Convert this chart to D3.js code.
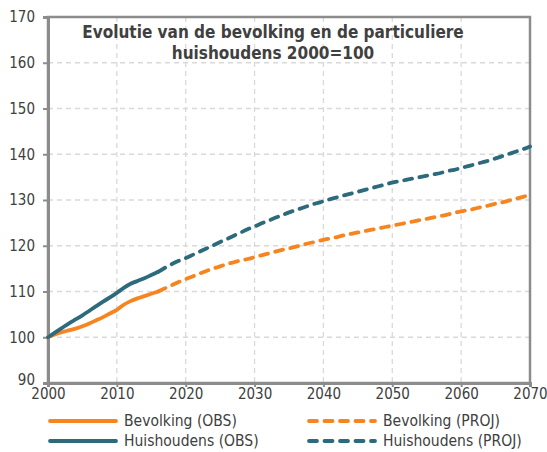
<!DOCTYPE html>
<html>
<head>
<meta charset="utf-8">
<script src="https://cdn.jsdelivr.net/npm/d3@7"></script>
<style>
  body { margin: 0; background: #fff; }
  svg text { font-family: "DejaVu Sans Condensed", "DejaVu Sans", sans-serif; fill: #404040; }
</style>
</head>
<body>
<div id="chart"></div>
<script>
// Data (2000 = 100)
var obsYears = d3.range(2000, 2017);
var bevolkingObs = [100, 100.6, 101.1, 101.5, 101.9, 102.4, 103.0, 103.7, 104.4, 105.2,
  106.0, 107.1, 107.9, 108.5, 109.0, 109.5, 110.0];
var huishoudensObs = [100, 101.0, 102.0, 103.0, 103.9, 104.8, 105.8, 106.8, 107.8, 108.7,
  109.7, 110.8, 111.7, 112.3, 112.9, 113.6, 114.3];

var projYears = d3.range(2016, 2071);
var bevolkingProj = [110.0, 110.7, 111.4, 112.1, 112.7, 113.3, 113.9, 114.5, 115.0, 115.5,
  116.0, 116.4, 116.8, 117.1, 117.5, 117.9, 118.3, 118.7, 119.1, 119.4,
  119.8, 120.2, 120.6, 120.9, 121.3, 121.6, 121.9, 122.3, 122.6, 122.9,
  123.2, 123.5, 123.8, 124.1, 124.4, 124.7, 125.0, 125.3, 125.6, 125.9,
  126.2, 126.5, 126.8, 127.2, 127.5, 127.8, 128.1, 128.5, 128.8, 129.2,
  129.5, 129.9, 130.3, 130.7, 131.1];
var huishoudensProj = [114.3, 115.2, 116.0, 116.7, 117.3, 118.0, 118.7, 119.4, 120.1, 120.8,
  121.5, 122.2, 122.9, 123.6, 124.2, 124.9, 125.5, 126.1, 126.7, 127.3,
  127.8, 128.3, 128.8, 129.3, 129.7, 130.2, 130.6, 131.0, 131.4, 131.8,
  132.2, 132.6, 133.0, 133.4, 133.8, 134.1, 134.4, 134.7, 135.0, 135.3,
  135.6, 135.9, 136.3, 136.6, 137.0, 137.4, 137.8, 138.2, 138.6, 139.1,
  139.6, 140.1, 140.6, 141.1, 141.7];

var xTicks = [2000, 2010, 2020, 2030, 2040, 2050, 2060, 2070];
var yTicks = [90, 100, 110, 120, 130, 140, 150, 160, 170];
var titleLines = ["Evolutie van de bevolking en de particuliere", "huishoudens 2000=100"];
var legendLabels = ["Bevolking (OBS)", "Bevolking (PROJ)", "Huishoudens (OBS)", "Huishoudens (PROJ)"];

var orange = "#f6841f";
var teal = "#2c6a7c";
var axisGrey = "#8c8c8c";

var svgWidth = 547;
var svgHeight = 452;
var margin = { top: 17, right: 17, bottom: 69, left: 48 };
var width = svgWidth - margin.left - margin.right;
var height = svgHeight - margin.top - margin.bottom;

var svg = d3.select("#chart").append("svg")
  .attr("width", svgWidth)
  .attr("height", svgHeight);

var g = svg.append("g")
  .attr("transform", `translate(${margin.left}, ${margin.top})`);

var x = d3.scaleLinear().domain([2000, 2070]).range([0, width]);
var y = d3.scaleLinear().domain([90, 170]).range([height, 0]);

// gridlines
g.append("g").selectAll("line")
  .data(yTicks.filter(d => d > 90 && d < 170))
  .enter().append("line")
    .attr("x1", 0).attr("x2", width)
    .attr("y1", d => y(d)).attr("y2", d => y(d))
    .attr("stroke", "#d9d9d9").attr("stroke-width", 1.3)
    .attr("stroke-dasharray", "5,4");

g.append("g").selectAll("line")
  .data(xTicks.filter(d => d > 2000 && d < 2070))
  .enter().append("line")
    .attr("x1", d => x(d)).attr("x2", d => x(d))
    .attr("y1", 0).attr("y2", height)
    .attr("stroke", "#d9d9d9").attr("stroke-width", 1.3)
    .attr("stroke-dasharray", "5,4");

// frame
g.append("rect")
  .attr("width", width).attr("height", height)
  .attr("fill", "none")
  .attr("stroke", axisGrey).attr("stroke-width", 2.5);

// axes
var yAxis = g.append("g")
  .call(d3.axisLeft(y).tickValues(yTicks).tickSize(5).tickPadding(8));
var xAxis = g.append("g")
  .attr("transform", `translate(0, ${height})`)
  .call(d3.axisBottom(x).tickValues(xTicks).tickFormat(d3.format("d")).tickSize(4).tickPadding(1));

[xAxis, yAxis].forEach(function(ax) {
  ax.select(".domain").attr("stroke", axisGrey).attr("stroke-width", 3);
  ax.selectAll(".tick line").attr("stroke", axisGrey).attr("stroke-width", 2);
  ax.selectAll(".tick text").style("font-size", "15px").attr("fill", "#404040");
});
yAxis.selectAll(".tick").filter(d => d === 90).select("text").attr("dy", "0.1em");

// lines
var line = d3.line()
  .x(d => x(d[0]))
  .y(d => y(d[1]))
  .curve(d3.curveMonotoneX);

var series = [
  { years: projYears, values: bevolkingProj, color: orange, dash: "8,7.5" },
  { years: projYears, values: huishoudensProj, color: teal, dash: "8,7.5" },
  { years: obsYears, values: bevolkingObs, color: orange, dash: null },
  { years: obsYears, values: huishoudensObs, color: teal, dash: null }
];

series.forEach(function(s) {
  g.append("path")
    .datum(d3.zip(s.years, s.values))
    .attr("d", line)
    .attr("fill", "none")
    .attr("stroke", s.color)
    .attr("stroke-width", 3.8)
    .attr("stroke-linecap", "round")
    .attr("stroke-dasharray", s.dash);
});

// title
var title = svg.append("text")
  .attr("x", 273)
  .attr("y", 38)
  .attr("text-anchor", "middle")
  .style("font-size", "17px")
  .style("font-weight", "bold");
title.selectAll("tspan")
  .data(titleLines)
  .enter().append("tspan")
    .attr("x", 273)
    .attr("dy", (d, i) => i === 0 ? 0 : 21)
    .text(d => d);

// legend
var legendItems = [
  { label: legendLabels[0], color: orange, dash: null, lx: 48, ly: 421 },
  { label: legendLabels[1], color: orange, dash: "8,7.5", lx: 307, ly: 421 },
  { label: legendLabels[2], color: teal, dash: null, lx: 48, ly: 441 },
  { label: legendLabels[3], color: teal, dash: "8,7.5", lx: 307, ly: 441 }
];

var legend = svg.append("g").selectAll("g")
  .data(legendItems)
  .enter().append("g")
    .attr("transform", d => `translate(${d.lx}, ${d.ly})`);

legend.append("line")
  .attr("x1", 2).attr("x2", 68)
  .attr("stroke", d => d.color)
  .attr("stroke-width", 3.8)
  .attr("stroke-linecap", "round")
  .attr("stroke-dasharray", d => d.dash);

legend.append("text")
  .attr("x", 76)
  .attr("dy", "0.35em")
  .style("font-size", "15.5px")
  .text(d => d.label);
</script>
</body>
</html>
